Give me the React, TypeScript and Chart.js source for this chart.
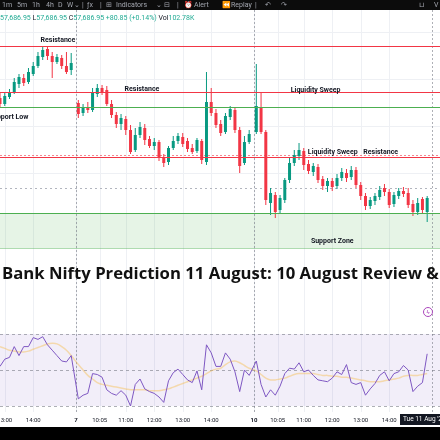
import React, { useEffect, useRef } from 'react';
import { Chart, registerables } from 'chart.js';

Chart.register(...registerables);

// ---- sessions (x axis is in session minutes; each NSE session 9:15–15:30 = 375 min) ----
const sessionOffsets = [0, 375, 750];
const sessionFirstSlot = [21, 0, 0];
const slotsPerSession = 37;
const barMinutes = 10;

// ---- 10-minute candles ----
const openP = [
  57708, 57684, 57712, 57732, 57764, 57788, 57772, 57804, 57836, 57872, 57904, 57876, 57852, 57868, 57836, 57820,
  57688, 57648, 57672, 57660, 57724, 57748, 57740, 57684, 57640, 57604, 57624, 57580, 57500, 57560, 57588, 57544, 57516, 57532, 57472, 57452, 57508, 57536, 57552, 57536, 57508, 57496, 57536, 57452, 57692, 57648, 57604, 57572, 57632, 57660, 57580, 57448, 57532,
  57572, 57672, 57572, 57288, 57320, 57260, 57300, 57380, 57448, 57476, 57496, 57444, 57412, 57432, 57384, 57356, 57376, 57356, 57388, 57408, 57392, 57420, 57360, 57316, 57276, 57296, 57312, 57348, 57332, 57284, 57316, 57336, 57328, 57284, 57252, 57304, 57252,
];
const highP = [
  57728, 57732, 57744, 57788, 57804, 57804, 57828, 57852, 57892, 57912, 57916, 57892, 57884, 57880, 57892, 57888,
  57700, 57684, 57692, 57748, 57764, 57760, 57756, 57700, 57652, 57644, 57636, 57600, 57588, 57612, 57604, 57556, 57548, 57540, 57484, 57516, 57556, 57568, 57568, 57548, 57524, 57548, 57544, 57812, 57748, 57664, 57620, 57648, 57676, 57672, 57592, 57556, 57580,
  57844, 57732, 57580, 57348, 57332, 57320, 57388, 57468, 57500, 57528, 57508, 57460, 57448, 57444, 57396, 57388, 57388, 57404, 57428, 57424, 57436, 57432, 57372, 57328, 57312, 57328, 57356, 57364, 57344, 57332, 57348, 57352, 57348, 57300, 57308, 57312, 57316,
];
const lowP = [
  57672, 57676, 57704, 57724, 57748, 57756, 57764, 57796, 57828, 57860, 57860, 57788, 57844, 57824, 57804, 57800,
  57628, 57636, 57648, 57652, 57712, 57720, 57676, 57628, 57588, 57580, 57560, 57484, 57492, 57548, 57520, 57508, 57500, 57456, 57432, 57440, 57500, 57524, 57512, 57492, 57484, 57488, 57444, 57440, 57636, 57588, 57556, 57564, 57620, 57568, 57408, 57440, 57524,
  57564, 57564, 57280, 57240, 57228, 57248, 57288, 57368, 57436, 57460, 57420, 57404, 57396, 57368, 57340, 57332, 57336, 57344, 57376, 57372, 57380, 57348, 57300, 57260, 57264, 57280, 57300, 57316, 57268, 57272, 57304, 57312, 57268, 57236, 57240, 57244, 57212,
];
const closeP = [
  57684, 57716, 57732, 57772, 57792, 57768, 57812, 57836, 57876, 57900, 57876, 57852, 57872, 57836, 57812, 57848,
  57644, 57668, 57660, 57732, 57748, 57732, 57684, 57640, 57604, 57628, 57580, 57492, 57560, 57592, 57540, 57516, 57532, 57468, 57448, 57508, 57536, 57556, 57524, 57504, 57492, 57540, 57460, 57692, 57648, 57600, 57568, 57636, 57664, 57580, 57436, 57532, 57564,
  57676, 57572, 57300, 57328, 57252, 57308, 57380, 57448, 57480, 57500, 57440, 57416, 57436, 57380, 57356, 57376, 57352, 57388, 57412, 57388, 57420, 57360, 57316, 57276, 57300, 57316, 57340, 57332, 57280, 57320, 57336, 57324, 57280, 57252, 57288, 57260, 57308,
];

// ---- RSI pane ----
const rsiValues = [
  52, 56, 57, 63, 58, 63, 63, 68, 67, 68.5, 64, 61, 58, 55, 54.5, 58,
  34, 36, 37, 48, 47.5, 46, 39, 37, 36, 38.5, 36, 30, 42, 45, 39.5, 38, 37, 35, 32, 44, 48.5, 50.5, 47.5, 44.5, 43, 49.5, 39, 64, 59.5, 52, 52, 59.5, 56, 49, 38, 50, 47,
  55, 42, 35, 39, 36, 41, 48, 51, 50.5, 54, 49, 50, 47, 44.5, 44, 43.5, 45.5, 49, 47.5, 53, 43, 42, 43, 36, 39.5, 42.5, 47, 49, 44, 48, 49, 52.5, 50, 38, 41, 43, 59,
];
const rsiMA = [
  63, 62, 61, 60.5, 60, 60, 60.5, 61.5, 62.5, 63.5, 64.5, 64.8, 64.5, 63, 61, 58,
  53, 50, 47, 45, 43, 42, 41.5, 41, 40.5, 40, 39.5, 39, 39, 39, 39, 38.5, 38.5, 38.5, 39, 39.5, 40.5, 41.5, 42.5, 43.5, 44.5, 45.5, 46.5, 48, 49.5, 50.5, 51, 53, 54.5, 55, 54, 52.5, 51,
  49.5, 47.5, 45.5, 44.5, 44.5, 45, 45.5, 46.5, 47.5, 48, 48, 48, 48, 47.5, 47, 47, 46.5, 46.5, 46, 46, 45.5, 45, 44.5, 44, 43.5, 43.5, 43.5, 44, 44.5, 45, 45.5, 46.5, 47, 47, 47, 47.5, 48,
];
const rsiLevels = [70, 50, 30];

// ---- time axis ----
const tickLabels = ['13:00', '14:00', '7', '10:05', '11:00', '12:00', '13:00', '14:00', '10', '10:05', '11:00', '12:00', '13:00', '14:00'];
const tickMinutes = [225, 285, 375, 425, 480, 540, 600, 660, 750, 800, 855, 915, 975, 1035];
const dayBreaks = [375, 750, 1125];
const X_MIN = 215;
const X_MAX = 1142;

// ---- drawn levels ----
const resistanceLevels = [57916, 57732, 57472];
const supportLevels = [57672, 57248];
const zoneRange = [57108, 57248];
const priceLineLevel = 57482;
const dottedLevel = 57348;
const gridLevels = [57408, 57596, 57784, 57972];
const Y_MIN = 57100;
const Y_MAX = 58000;

const noteTexts = ['Resistance', 'Resistance', 'Liquidity Sweep', 'Support Low', 'Liquidity Sweep', 'Resistance', 'Support Zone'];
const noteMinutes = [337, 514, 880, 233, 916, 1017, 915];
const notePrices = [57940, 57744, 57740, 57632, 57490, 57490, 57134];

const UP = '#089981';
const DOWN = '#f23645';
const GRID = '#eef0f4';
const SESSION = 'rgba(120,123,134,0.6)';

const candleTimes: number[] = [];
sessionOffsets.forEach((off, d) => {
  for (let s = sessionFirstSlot[d]; s < slotsPerSession; s++) candleTimes.push(off + s * barMinutes + barMinutes / 2);
});

const snap = (v: number) => Math.round(v) + 0.5;
function hline(ctx: CanvasRenderingContext2D, x0: number, x1: number, y: number) {
  ctx.beginPath(); ctx.moveTo(x0, y); ctx.lineTo(x1, y); ctx.stroke();
}
function vline(ctx: CanvasRenderingContext2D, x: number, y0: number, y1: number) {
  ctx.beginPath(); ctx.moveTo(x, y0); ctx.lineTo(x, y1); ctx.stroke();
}

const mainDecor = {
  id: 'mainDecor',
  beforeDatasetsDraw(chart: any) {
    const { ctx, scales } = chart;
    const x = scales.x, y = scales.y;
    const W = chart.width, H = chart.height;
    ctx.save();
    ctx.lineWidth = 1;
    ctx.strokeStyle = GRID;
    gridLevels.forEach((p) => hline(ctx, 0, W, snap(y.getPixelForValue(p))));
    tickMinutes.forEach((m) => vline(ctx, snap(x.getPixelForValue(m)), 0, H));
    const zt = y.getPixelForValue(zoneRange[1]);
    const zb = y.getPixelForValue(zoneRange[0]);
    ctx.fillStyle = 'rgba(76,175,80,0.14)';
    ctx.fillRect(0, zt, W, zb - zt);
    ctx.strokeStyle = 'rgba(76,175,80,0.45)';
    hline(ctx, 0, W, snap(zb));
    ctx.setLineDash([2, 2]);
    ctx.strokeStyle = SESSION;
    dayBreaks.forEach((m) => vline(ctx, snap(x.getPixelForValue(m)), 0, H));
    ctx.strokeStyle = 'rgba(242,54,69,0.6)';
    hline(ctx, 0, W, snap(y.getPixelForValue(priceLineLevel)));
    ctx.setLineDash([2, 3]);
    ctx.strokeStyle = '#b2b5be';
    hline(ctx, 0, W, snap(y.getPixelForValue(dottedLevel)));
    ctx.restore();
  },
  afterDatasetsDraw(chart: any) {
    const { ctx, scales } = chart;
    const x = scales.x, y = scales.y;
    const W = chart.width;
    ctx.save();
    ctx.lineWidth = 1;
    ctx.strokeStyle = '#f23645';
    resistanceLevels.forEach((p) => hline(ctx, 0, W, snap(y.getPixelForValue(p))));
    ctx.strokeStyle = '#4caf50';
    supportLevels.forEach((p) => hline(ctx, 0, W, snap(y.getPixelForValue(p))));
    ctx.fillStyle = '#131722';
    ctx.font = 'bold 7px Roboto';
    ctx.textAlign = 'center';
    ctx.textBaseline = 'middle';
    noteTexts.forEach((t, i) => ctx.fillText(t, x.getPixelForValue(noteMinutes[i]), y.getPixelForValue(notePrices[i])));
    ctx.restore();
  },
};

const rsiDecor = {
  id: 'rsiDecor',
  beforeDatasetsDraw(chart: any) {
    const { ctx, chartArea: a, scales } = chart;
    const x = scales.x, y = scales.y;
    const W = chart.width;
    ctx.save();
    ctx.lineWidth = 1;
    ctx.strokeStyle = GRID;
    tickMinutes.forEach((m) => vline(ctx, snap(x.getPixelForValue(m)), 0, a.bottom + 6));
    const t = y.getPixelForValue(rsiLevels[0]);
    const b = y.getPixelForValue(rsiLevels[2]);
    ctx.fillStyle = 'rgba(126,87,194,0.1)';
    ctx.fillRect(0, t, W, b - t);
    ctx.setLineDash([3, 3]);
    ctx.strokeStyle = 'rgba(120,123,134,0.6)';
    rsiLevels.forEach((l) => hline(ctx, 0, W, snap(y.getPixelForValue(l))));
    ctx.setLineDash([2, 2]);
    ctx.strokeStyle = SESSION;
    dayBreaks.forEach((m) => vline(ctx, snap(x.getPixelForValue(m)), 0, a.bottom + 6));
    ctx.restore();
  },
  afterDraw(chart: any) {
    const { ctx, chartArea: a, scales } = chart;
    const x = scales.x;
    ctx.save();
    ctx.fillStyle = '#131722';
    ctx.textAlign = 'center';
    ctx.textBaseline = 'middle';
    tickLabels.forEach((lab, i) => {
      const isDay = lab.indexOf(':') < 0;
      ctx.font = (isDay ? 'bold ' : '') + '6px Roboto';
      ctx.fillText(lab, x.getPixelForValue(tickMinutes[i]), a.bottom + 14.5);
    });
    ctx.restore();
  },
};

export default function App() {
  const mainRef = useRef<HTMLCanvasElement>(null);
  const rsiRef = useRef<HTMLCanvasElement>(null);

  useEffect(() => {
    Chart.defaults.font.family = 'Roboto, "DejaVu Sans", sans-serif';
    const colorAt = (c: any) => (closeP[c.dataIndex] >= openP[c.dataIndex] ? UP : DOWN);
    const main = new Chart(mainRef.current as HTMLCanvasElement, {
      type: 'bar',
      data: {
        datasets: [
          {
            label: 'body',
            data: candleTimes.map((t, i) => ({ x: t, y: [openP[i], closeP[i]] })) as any,
            backgroundColor: colorAt,
            borderWidth: 0,
            grouped: false,
            maxBarThickness: 3,
            minBarLength: 1,
            order: 0,
          },
          {
            label: 'wick',
            data: candleTimes.map((t, i) => ({ x: t, y: [lowP[i], highP[i]] })) as any,
            backgroundColor: colorAt,
            borderWidth: 0,
            grouped: false,
            maxBarThickness: 1,
            order: 1,
          },
        ],
      },
      options: {
        responsive: false,
        animation: false,
        events: [],
        layout: { padding: { top: 15, bottom: 80, left: 0, right: 0 } },
        plugins: { legend: { display: false }, tooltip: { enabled: false } },
        scales: {
          x: { type: 'linear', min: X_MIN, max: X_MAX, display: false, offset: false },
          y: { min: Y_MIN, max: Y_MAX, display: false },
        },
      },
      plugins: [mainDecor],
    } as any);

    const rsi = new Chart(rsiRef.current as HTMLCanvasElement, {
      type: 'line',
      data: {
        datasets: [
          {
            label: 'RSI',
            data: candleTimes.map((t, i) => ({ x: t, y: rsiValues[i] })),
            borderColor: '#7e57c2',
            borderWidth: 1,
            pointRadius: 0,
            tension: 0,
            clip: false,
            order: 0,
          },
          {
            label: 'RSI MA',
            data: candleTimes.map((t, i) => ({ x: t, y: rsiMA[i] })),
            borderColor: 'rgba(247,190,80,0.45)',
            borderWidth: 1.5,
            pointRadius: 0,
            tension: 0.4,
            clip: false,
            order: 1,
          },
        ],
      },
      options: {
        responsive: false,
        animation: false,
        events: [],
        layout: { padding: { top: 4, bottom: 21, left: 0, right: 0 } },
        plugins: { legend: { display: false }, tooltip: { enabled: false } },
        scales: {
          x: { type: 'linear', min: X_MIN, max: X_MAX, display: false },
          y: { min: rsiLevels[2], max: rsiLevels[0], display: false },
        },
      },
      plugins: [rsiDecor],
    } as any);

    return () => {
      main.destroy();
      rsi.destroy();
    };
  }, []);

  const tb: React.CSSProperties = { position: 'absolute', top: 0, lineHeight: '10px', fontSize: 7, color: '#a3a6af' };
  const teal = { color: '#22ab94' };
  const dark = { color: '#131722' };

  return (
    <div style={{ position: 'fixed', left: 0, top: 0, width: 440, height: 440, background: '#fff', overflow: 'hidden', fontFamily: 'Roboto, sans-serif' }}>
      <canvas ref={mainRef} width={440} height={320} style={{ position: 'absolute', left: 0, top: 10, display: 'block' }} />
      <canvas ref={rsiRef} width={440} height={97} style={{ position: 'absolute', left: 0, top: 330, display: 'block' }} />

      <div style={{ position: 'absolute', left: 0, top: 0, width: 440, height: 10, background: '#0c0c0c' }}>
        <span style={{ ...tb, left: 2 }}>1m</span>
        <span style={{ ...tb, left: 17 }}>5m</span>
        <span style={{ ...tb, left: 32 }}>1h</span>
        <span style={{ ...tb, left: 46 }}>4h</span>
        <span style={{ ...tb, left: 58 }}>D</span>
        <span style={{ ...tb, left: 67 }}>W</span>
        <span style={{ ...tb, left: 74 }}>⌄</span>
        <span style={{ ...tb, left: 82 }}>|</span>
        <span style={{ ...tb, left: 87 }}>ƒx</span>
        <span style={{ ...tb, left: 100 }}>|</span>
        <span style={{ ...tb, left: 106 }}>⊞</span>
        <span style={{ ...tb, left: 116 }}>Indicators</span>
        <span style={{ ...tb, left: 156 }}>⌄</span>
        <span style={{ ...tb, left: 164 }}>⊟</span>
        <span style={{ ...tb, left: 177 }}>|</span>
        <span style={{ ...tb, left: 184 }}>⏰</span>
        <span style={{ ...tb, left: 194 }}>Alert</span>
        <span style={{ ...tb, left: 222 }}>⏪</span>
        <span style={{ ...tb, left: 231 }}>Replay</span>
        <span style={{ ...tb, left: 255 }}>|</span>
        <span style={{ ...tb, left: 265 }}>↶</span>
        <span style={{ ...tb, left: 281 }}>↷</span>
        <span style={{ ...tb, left: 419 }}>⊔</span>
        <span style={{ ...tb, left: 434 }}>V</span>
      </div>

      <div style={{ position: 'absolute', left: 0, top: 13, height: 10, lineHeight: '10px', fontSize: 7, whiteSpace: 'nowrap' }}>
        <span style={teal}>57,686.95 </span>
        <span style={dark}>L</span>
        <span style={teal}>57,686.95 </span>
        <span style={dark}>C</span>
        <span style={teal}>57,686.95 +80.85 (+0.14%) </span>
        <span style={dark}>Vol</span>
        <span style={teal}>102.78K</span>
      </div>

      <div style={{ position: 'absolute', left: 2, top: 264, lineHeight: '17px', fontSize: 16.7, fontWeight: 700, fontFamily: '"Open Sans", sans-serif', color: '#111', whiteSpace: 'nowrap' }}>
        Bank Nifty Prediction 11 August: 10 August Review &amp;
      </div>

      <div style={{ position: 'absolute', left: 423, top: 307, width: 10, height: 10, boxSizing: 'border-box', border: '1px solid #ab47bc', borderRadius: '50%', color: '#ab47bc', fontSize: 6, lineHeight: '8px', textAlign: 'center' }}>ϟ</div>

      <div style={{ position: 'absolute', left: 400, top: 414, width: 44, height: 11, background: '#131722', color: '#fff', fontSize: 6.5, lineHeight: '11px', paddingLeft: 3, whiteSpace: 'nowrap', overflow: 'hidden', boxSizing: 'border-box' }}>Tue 11 Aug '20</div>

      <div style={{ position: 'absolute', left: 0, top: 427, width: 440, height: 13, background: '#000' }} />
    </div>
  );
}
